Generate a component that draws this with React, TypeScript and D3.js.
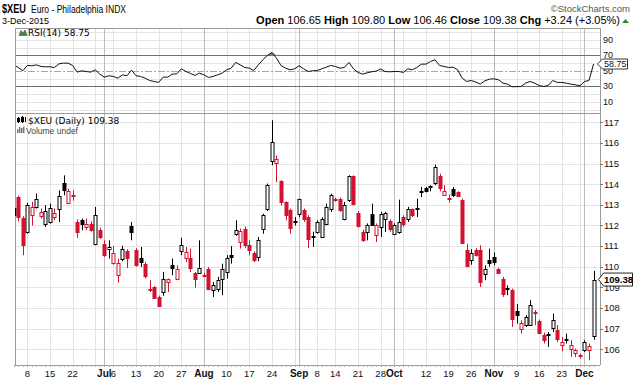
import React from "react";
import * as d3 from "d3";

const tradingDays: string[] = [
  "2015-06-03","2015-06-04","2015-06-05","2015-06-08","2015-06-09","2015-06-10","2015-06-11","2015-06-12","2015-06-15","2015-06-16",
  "2015-06-17","2015-06-18","2015-06-19","2015-06-22","2015-06-23","2015-06-24","2015-06-25","2015-06-26","2015-06-29","2015-06-30",
  "2015-07-01","2015-07-02","2015-07-06","2015-07-07","2015-07-08","2015-07-09","2015-07-10","2015-07-13","2015-07-14","2015-07-15",
  "2015-07-16","2015-07-17","2015-07-20","2015-07-21","2015-07-22","2015-07-23","2015-07-24","2015-07-27","2015-07-28","2015-07-29",
  "2015-07-30","2015-07-31","2015-08-03","2015-08-04","2015-08-05","2015-08-06","2015-08-07","2015-08-10","2015-08-11","2015-08-12",
  "2015-08-13","2015-08-14","2015-08-17","2015-08-18","2015-08-19","2015-08-20","2015-08-21","2015-08-24","2015-08-25","2015-08-26",
  "2015-08-27","2015-08-28","2015-08-31","2015-09-01","2015-09-02","2015-09-03","2015-09-04","2015-09-08","2015-09-09","2015-09-10",
  "2015-09-11","2015-09-14","2015-09-15","2015-09-16","2015-09-17","2015-09-18","2015-09-21","2015-09-22","2015-09-23","2015-09-24",
  "2015-09-25","2015-09-28","2015-09-29","2015-09-30","2015-10-01","2015-10-02","2015-10-05","2015-10-06","2015-10-07","2015-10-08",
  "2015-10-09","2015-10-12","2015-10-13","2015-10-14","2015-10-15","2015-10-16","2015-10-19","2015-10-20","2015-10-21","2015-10-22",
  "2015-10-23","2015-10-26","2015-10-27","2015-10-28","2015-10-29","2015-10-30","2015-11-02","2015-11-03","2015-11-04","2015-11-05",
  "2015-11-06","2015-11-09","2015-11-10","2015-11-11","2015-11-12","2015-11-13","2015-11-16","2015-11-17","2015-11-18","2015-11-19",
  "2015-11-20","2015-11-23","2015-11-24","2015-11-25","2015-11-27","2015-11-30","2015-12-01","2015-12-02","2015-12-03",
];

const opens: number[] = [
  112.85,113.38,112.38,111.7,112.5,112.9,112.45,112.09,112.17,112.41,
  112.79,114.08,113.11,113.5,112.17,112.25,111.95,112.09,111.12,111.77,
  111.12,110.85,110.2,109.62,110.36,110.75,111.96,110.8,110.4,110.15,
  108.9,109.02,108.54,108.78,109.26,110.1,109.39,110.75,110.4,110.43,
  109.7,109.72,109.56,109.91,108.86,108.94,109.39,109.75,110.55,111.6,
  111.2,111.85,111.07,110.67,110.48,111.85,112.79,115.11,115.05,114.14,
  113.14,112.74,112.2,112.54,112.73,112.41,111.5,111.7,111.45,112.09,
  112.82,113.3,113.3,112.33,113.22,114.38,112.62,111.69,111.69,112.58,
  111.55,111.93,112.33,112.22,111.61,111.69,112.41,112.33,112.79,112.84,
  113.65,113.82,113.9,114.08,114.4,113.5,113.35,113.79,113.63,113.25,
  110.8,110.31,110.8,110.8,109.67,110.31,110.48,109.91,109.43,108.96,
  108.86,107.84,107.0,107.17,107.2,107.8,107.36,106.71,106.72,107.04,
  106.92,106.23,106.5,106.0,105.84,105.7,105.95,105.95,106.65,
];
const highs: number[] = [
  112.9,113.45,112.45,113.1,113.14,113.54,112.82,112.98,113.06,112.82,
  113.7,114.43,113.78,113.7,112.3,112.33,112.33,112.2,112.9,111.9,
  111.28,111.28,111.0,110.4,111.01,110.85,112.17,110.9,110.96,110.24,
  109.35,109.07,108.6,109.75,109.43,110.4,110.07,111.4,110.96,110.88,
  109.75,111.28,109.7,109.99,109.26,109.51,110.15,110.56,111.0,112.25,
  111.85,111.95,111.28,110.75,111.44,112.57,114.03,117.1,115.4,114.19,
  113.17,112.82,112.41,113.3,112.82,112.5,111.7,112.25,112.4,113.06,
  113.54,113.35,113.35,113.14,114.43,114.43,112.7,111.8,112.1,113.06,
  112.1,112.66,112.66,112.3,112.1,113.25,112.49,112.9,112.82,113.3,
  113.87,113.87,113.95,114.95,114.51,113.95,113.5,113.87,113.66,113.3,
  111.12,110.85,110.9,111.04,110.07,110.88,110.69,109.95,109.51,109.1,
  108.94,108.2,107.41,107.65,108.38,107.9,107.44,106.81,106.84,107.73,
  107.17,106.6,106.76,106.44,106.03,105.79,106.44,106.28,109.8,
];
const lows: number[] = [
  111.2,112.2,110.56,111.6,112.0,112.82,112.33,111.93,112.09,112.25,
  112.17,113.46,113.03,113.2,111.4,111.77,111.77,111.7,111.04,111.35,
  110.48,110.4,110.1,109.23,110.27,109.94,111.28,110.0,109.99,109.43,
  108.78,108.46,108.05,108.59,108.78,109.59,109.35,110.56,110.23,109.75,
  108.99,109.67,109.5,108.86,108.54,108.78,108.62,109.43,110.15,111.5,
  110.88,110.9,110.56,110.23,110.27,111.6,112.7,114.92,114.11,112.96,
  112.25,111.6,112.0,112.41,112.17,110.91,110.96,111.6,111.4,112.01,
  112.66,113.15,112.66,112.25,113.14,112.98,111.9,111.2,111.28,112.0,
  111.2,111.45,111.69,111.69,111.55,111.6,111.93,112.17,112.41,112.41,
  113.38,113.6,113.66,113.95,113.66,113.46,113.11,113.38,113.38,111.1,
  109.99,110.1,110.5,109.02,109.35,110.0,110.07,109.65,108.54,108.62,
  107.08,107.25,106.76,107.08,107.15,107.17,106.76,106.28,106.12,106.84,
  106.36,105.9,106.28,105.63,105.63,105.55,105.87,105.47,106.46,
];
const closes: number[] = [
  112.5,112.4,111.07,113.0,112.9,113.3,112.66,112.7,112.87,112.61,
  113.43,113.7,113.65,113.45,111.69,112.09,112.05,111.77,112.49,111.44,
  110.59,110.96,110.69,110.2,110.85,110.43,111.69,110.1,110.24,109.56,
  108.86,108.49,108.09,109.43,109.39,109.94,109.88,111.04,110.72,109.94,
  109.39,109.94,109.62,108.94,109.1,109.35,109.91,110.4,110.48,111.8,
  111.75,111.04,110.8,110.35,111.28,112.49,113.95,116.05,115.24,113.14,
  112.49,111.88,112.17,113.26,112.33,111.33,111.45,112.17,112.3,112.9,
  113.46,113.25,112.74,112.98,114.4,113.06,111.98,111.28,112.01,112.04,
  112.0,112.58,112.6,111.85,112.01,112.17,112.05,112.82,112.49,112.82,
  113.63,113.66,113.87,114.84,113.82,113.66,113.33,113.5,113.43,111.17,
  110.04,110.69,110.56,109.26,109.91,110.2,110.25,109.72,108.7,108.94,
  107.49,107.65,107.29,107.57,108.17,107.78,106.81,106.44,106.71,107.41,
  106.52,106.36,106.49,106.23,105.95,105.68,106.33,106.14,109.38,
];
const closeBeforeFirst = 112.0;

const rsi14: number[] = [
  57.7,54.3,50.0,56.9,56.5,57.7,55.6,55.2,55.2,54.3,
  59.0,59.9,59.9,56.9,48.3,50.0,49.1,48.3,51.3,45.7,
  41.8,43.6,42.7,40.5,44.8,43.6,50.9,43.6,42.7,40.5,
  37.5,36.2,35.0,41.8,41.8,45.7,46.1,52.6,49.1,46.6,
  44.0,47.0,44.8,41.4,42.7,44.8,47.0,51.3,53.4,60.8,
  57.7,54.3,53.4,50.4,57.7,64.2,69.8,73.7,66.3,56.9,
  53.4,51.3,52.6,56.5,52.6,49.1,50.0,50.4,52.6,54.7,
  56.9,55.6,53.4,54.3,60.8,52.6,47.9,45.7,47.4,48.7,
  49.6,52.2,49.1,48.7,49.1,49.1,47.9,52.6,51.3,54.3,
  58.6,58.6,62.0,64.2,56.9,55.6,54.3,54.7,51.3,40.5,
  36.2,37.5,35.4,32.8,37.1,39.2,39.7,38.4,34.1,32.8,
  29.5,29.5,29.8,34.1,36.2,34.1,31.1,29.8,31.1,37.5,
  35.0,35.0,34.1,32.8,31.9,30.6,36.2,37.5,58.75,
];

const priceTicks: number[] = [106, 107, 108, 109, 110, 111, 112, 113, 114, 115, 116, 117];
const rsiTickLabels: number[] = [10, 30, 50, 70, 90];
const rsiGrid: number[] = [0, 10, 20, 40, 60, 80, 90, 100];
const xLabelDates: string[] = [
  "2015-06-08","2015-06-15","2015-06-22","2015-07-01","2015-07-06","2015-07-13","2015-07-20","2015-07-27",
  "2015-08-03","2015-08-10","2015-08-17","2015-08-24","2015-09-01","2015-09-08","2015-09-14","2015-09-21",
  "2015-09-28","2015-10-01","2015-10-12","2015-10-19","2015-10-26","2015-11-02","2015-11-09","2015-11-16",
  "2015-11-23","2015-12-01",
];
const xLabelTexts: string[] = [
  "8","15","22","Jul","6","13","20","27","Aug","10","17","24","Sep","8","14","21","28","Oct","12","19","26","Nov","9","16","23","Dec",
];

const W = 634;
const H = 381;
const L = 15;
const R = 600;
const RSI_TOP = 28;
const MID = 113.5;
const BOT = 365;
const RED = "#d2122e";
const NUM_FONT = "'Liberation Sans', Arial, sans-serif";
const VFONT = "'DejaVu Sans', Verdana, sans-serif";

export default function App() {
  const n = tradingDays.length;
  const x = d3.scaleLinear().domain([0, n - 1]).range([13.71, 593.55]);
  const yP = d3.scaleLinear().domain([106, 117]).range([349.3, 122.3]);
  const yR = d3.scaleLinear().domain([30, 70]).range([86.3, 55.3]);

  const parsed = tradingDays.map((s) => new Date(s + "T00:00:00Z"));
  const weekLines: { i: number; month: boolean }[] = [];
  parsed.forEach((d, i) => {
    if (i === 0) return;
    const p = parsed[i - 1];
    const month = d.getUTCMonth() !== p.getUTCMonth();
    const week = d.getUTCDay() < p.getUTCDay();
    if (month || week) weekLines.push({ i, month });
  });

  const px = (i: number) => Math.round(x(i)) + 0.5;

  const rsiLine = d3
    .line<number>()
    .x((_, i) => x(i))
    .y((v) => yR(v))(rsi14) as string;
  const overArea = d3
    .area<number>()
    .x((_, i) => x(i))
    .y0(yR(70))
    .y1((v) => yR(Math.max(v, 70)))(rsi14) as string;
  const underArea = d3
    .area<number>()
    .x((_, i) => x(i))
    .y0(yR(30))
    .y1((v) => yR(Math.min(v, 30)))(rsi14) as string;

  const lastClose = closes[n - 1];
  const lastRsi = rsi14[n - 1];
  const tagPath = (x0: number, y: number, w: number, h: number) =>
    `M${x0},${y} L${x0 + 5},${y - h} L${x0 + w},${y - h} L${x0 + w},${y + h} L${x0 + 5},${y + h} Z`;

  const labelIdx = xLabelDates.map((d) => tradingDays.indexOf(d));

  return (
    <div style={{ position: "absolute", left: 0, top: 0, width: W, height: H }}>
      <svg width={W} height={H} style={{ display: "block", background: "#fff" }}>
        <defs>
          <clipPath id="clipPrice">
            <rect x={L} y={MID} width={R - L} height={BOT - MID} />
          </clipPath>
          <clipPath id="clipRsi">
            <rect x={L} y={RSI_TOP} width={R - L} height={MID - RSI_TOP} />
          </clipPath>
        </defs>

        {/* header */}
        <text
          x={2}
          y={13}
          fontFamily={NUM_FONT}
          fontWeight="bold"
          fontSize={12.5}
          fill="#000"
          textLength={24}
          lengthAdjust="spacingAndGlyphs"
        >
          $XEU
        </text>
        <text x={31} y={13} fontFamily={NUM_FONT} fontSize={10} fill="#000" textLength={95} lengthAdjust="spacingAndGlyphs">
          Euro - Philadelphia INDX
        </text>
        <text x={2} y={24} fontFamily={NUM_FONT} fontSize={9} fill="#000">
          3-Dec-2015
        </text>
        <text x={630} y={12} textAnchor="end" fontFamily={NUM_FONT} fontSize={9.5} fill="#555">
          ©StockCharts.com
        </text>
        <text x={620} y={24} textAnchor="end" fontFamily={NUM_FONT} fontSize={11} fill="#000">
          <tspan fontWeight="bold">Open</tspan>
          <tspan> 106.65 </tspan>
          <tspan fontWeight="bold">High</tspan>
          <tspan> 109.80 </tspan>
          <tspan fontWeight="bold">Low</tspan>
          <tspan> 106.46 </tspan>
          <tspan fontWeight="bold">Close</tspan>
          <tspan> 109.38 </tspan>
          <tspan fontWeight="bold">Chg</tspan>
          <tspan> +3.24 (+3.05%)</tspan>
        </text>
        <path d="M622,23 L625.5,19 L629,23 Z" fill="#2e8b2e" />

        {/* RSI panel grid */}
        {rsiGrid.map((v) => (
          <line key={"rg" + v} x1={L} x2={R} y1={Math.round(yR(v)) + 0.5} y2={Math.round(yR(v)) + 0.5} stroke="#e4e4e4" />
        ))}
        {/* price panel grid */}
        {priceTicks.map((v) => (
          <line key={"pg" + v} x1={L} x2={R} y1={Math.round(yP(v)) + 0.5} y2={Math.round(yP(v)) + 0.5} stroke="#e4e4e4" />
        ))}
        {weekLines.map((w) => (
          <line
            key={"vg" + w.i}
            x1={px(w.i)}
            x2={px(w.i)}
            y1={RSI_TOP}
            y2={BOT}
            stroke={w.month ? "#bcbcbc" : "#e2e2e2"}
          />
        ))}

        {/* RSI reference lines */}
        <line x1={L} x2={R} y1={Math.round(yR(70)) + 0.5} y2={Math.round(yR(70)) + 0.5} stroke="#707070" />
        <line x1={L} x2={R} y1={Math.round(yR(30)) + 0.5} y2={Math.round(yR(30)) + 0.5} stroke="#707070" />
        <line
          x1={L}
          x2={R}
          y1={Math.round(yR(50)) + 0.5}
          y2={Math.round(yR(50)) + 0.5}
          stroke="#a8a8a8"
          strokeWidth={1.2}
          strokeDasharray="7,2,2,2"
        />
        <g clipPath="url(#clipRsi)">
          <path d={overArea} fill="#6f9a6f" stroke="none" />
          <path d={underArea} fill="#6f9a6f" stroke="none" />
          <path d={rsiLine} fill="none" stroke="#111" strokeWidth={1} />
        </g>

        {/* panel borders */}
        <line x1={L} x2={R} y1={RSI_TOP + 0.5} y2={RSI_TOP + 0.5} stroke="#9a9a9a" />
        <line x1={L} x2={R} y1={MID} y2={MID} stroke="#9a9a9a" />
        <line x1={L} x2={R} y1={BOT + 0.5} y2={BOT + 0.5} stroke="#9a9a9a" />
        <line x1={L + 0.5} x2={L + 0.5} y1={RSI_TOP} y2={BOT} stroke="#9a9a9a" />
        <line x1={R + 0.5} x2={R + 0.5} y1={RSI_TOP} y2={BOT} stroke="#9a9a9a" />

        {/* candles */}
        <g clipPath="url(#clipPrice)">
          {closes.map((c, i) => {
            const o = opens[i];
            const prev = i === 0 ? closeBeforeFirst : closes[i - 1];
            const col = c >= prev ? "#000" : RED;
            const filled = c < o;
            const cx = px(i);
            const top = Math.round(yP(Math.max(o, c))) + 0.5;
            let bot = Math.round(yP(Math.min(o, c))) + 0.5;
            if (bot - top < 1) bot = top + 1;
            return (
              <g key={"c" + i}>
                <line x1={cx} x2={cx} y1={yP(highs[i])} y2={yP(lows[i])} stroke={col} strokeWidth={1} />
                <rect
                  x={cx - 1.5}
                  y={top}
                  width={3}
                  height={bot - top}
                  fill={filled ? col : "#fff"}
                  stroke={col}
                  strokeWidth={1}
                />
              </g>
            );
          })}
        </g>

        {/* panel legends */}
        <path d="M19,35.5 L21,30.5 L23,33 L25,30 L27,35.5 Z" fill="#4d7d4d" stroke="#2f5f2f" strokeWidth={0.6} />
        <text x={28} y={36} fontFamily={VFONT} fontSize={9} fill="#000">
          RSI(14) 58.75
        </text>
        <g stroke="#000" strokeWidth={1}>
          <line x1={18.5} x2={18.5} y1={117} y2={123} />
          <rect x={17.5} y={118.5} width={2} height={3} fill="#000" />
          <line x1={22.5} x2={22.5} y1={116} y2={123} />
          <rect x={21.5} y={117.5} width={2} height={4} fill="#000" />
          <line x1={25.5} x2={25.5} y1={117} y2={122} />
        </g>
        <text x={28} y={123.5} fontFamily={VFONT} fontSize={9} fill="#000">
          $XEU (Daily) 109.38
        </text>
        <g fill="#777">
          <rect x={17} y={129} width={1.5} height={4} />
          <rect x={19} y={127} width={1.5} height={6} />
          <rect x={21} y={128} width={1.5} height={5} />
          <rect x={23} y={126.5} width={1.5} height={6.5} />
        </g>
        <text x={26} y={133.5} fontFamily={NUM_FONT} fontSize={8.5} fill="#444">
          Volume undef
        </text>

        {/* right axis: price */}
        {priceTicks.map((v) => (
          <g key={"pt" + v}>
            <line x1={R} x2={R + 3} y1={Math.round(yP(v)) + 0.5} y2={Math.round(yP(v)) + 0.5} stroke="#777" />
            <text x={604} y={yP(v)} dy="0.35em" fontFamily={NUM_FONT} fontSize={9.5} fill="#111">
              {v}
            </text>
          </g>
        ))}
        {/* right axis: rsi */}
        {rsiTickLabels.map((v) => (
          <text key={"rt" + v} x={603} y={yR(v)} dy="0.35em" fontFamily={NUM_FONT} fontSize={9} fill="#111">
            {v}
          </text>
        ))}

        {/* value tags */}
        <path d={tagPath(597.5, yR(lastRsi), 30, 5)} fill="#fff" stroke="#333" strokeWidth={1} />
        <text x={604} y={yR(lastRsi)} dy="0.35em" fontFamily={NUM_FONT} fontSize={9} fill="#111">
          {lastRsi.toFixed(2)}
        </text>
        <path d={tagPath(598.5, yP(lastClose), 34, 6.5)} fill="#fff" stroke="#222" strokeWidth={1} />
        <text x={604} y={yP(lastClose)} dy="0.35em" fontFamily={NUM_FONT} fontSize={9.5} fontWeight="bold" fill="#000">
          {lastClose.toFixed(2)}
        </text>

        {/* bottom axis */}
        {closes.map((_, i) => (
          <line key={"dt" + i} x1={px(i)} x2={px(i)} y1={BOT} y2={BOT + 2} stroke="#aaa" />
        ))}
        {labelIdx.map((idx, k) => {
          const t = xLabelTexts[k];
          const isMonth = isNaN(Number(t));
          return (
            <text
              key={"xl" + k}
              x={x(idx)}
              y={377}
              textAnchor="middle"
              fontFamily={NUM_FONT}
              fontSize={isMonth ? 10 : 9.5}
              fontWeight={isMonth ? "bold" : "normal"}
              fill="#111"
            >
              {t}
            </text>
          );
        })}
      </svg>
    </div>
  );
}
